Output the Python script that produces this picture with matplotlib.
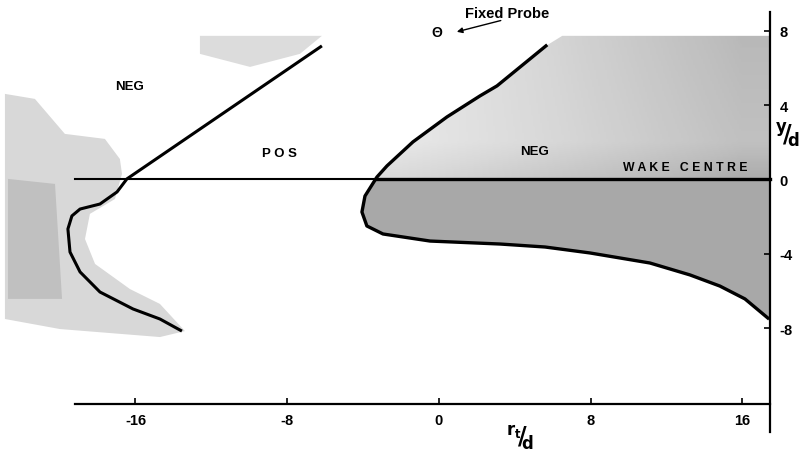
import numpy as np
import matplotlib
matplotlib.use('Agg')
import matplotlib.pyplot as plt
from matplotlib.patches import Polygon

plt.rcParams['font.family'] = ['Liberation Sans', 'DejaVu Sans']
plt.rcParams['font.weight'] = 'bold'
plt.rcParams['axes.unicode_minus'] = False

# zero-correlation boundary, left branch (r_t/d, y/d)
left_x = [-6.17, -16.45, -16.97, -17.87, -18.92, -19.35, -19.56, -19.45, -18.92, -17.87, -16.13, -14.71, -13.55]
left_y = [7.18, 0.03, -0.67, -1.32, -1.59, -1.96, -2.66, -3.90, -4.97, -6.05, -6.96, -7.50, -8.15]

# zero-correlation boundary, right branch: upper limb then lower limb
right_up_x = [5.64, 3.06, 2.16, 0.42, -1.37, -2.74, -3.27]
right_up_y = [7.18, 5.03, 4.49, 3.36, 2.02, 0.73, 0.13]
right_lo_x = [-3.27, -3.90, -4.06, -3.80, -2.95, -0.47, 3.22, 5.59, 7.96, 11.12, 13.23, 14.81, 16.13, 17.34]
right_lo_y = [0.13, -0.89, -1.75, -2.50, -2.93, -3.31, -3.47, -3.63, -3.95, -4.49, -5.13, -5.73, -6.42, -7.45]

# negative regions (shaded)
neg_left_x = [-22.88, -21.30, -19.72, -17.61, -16.82, -16.71, -17.08, -18.40, -18.66, -18.13, -16.29, -14.71, -13.39, -14.71, -19.98, -22.88]
neg_left_y = [4.60, 4.33, 2.45, 2.18, 1.10, 0.30, -1.05, -1.85, -3.20, -4.54, -5.89, -6.69, -8.15, -8.47, -8.04, -7.50]
neg_core_x = [-22.72, -20.24, -19.87, -22.72]
neg_core_y = [0.03, -0.24, -6.42, -6.42]
neg_top_x = [-12.60, -6.17, -7.33, -9.96, -12.60]
neg_top_y = [7.72, 7.72, 6.75, 6.05, 6.75]

x_ticks = [-16, -8, 0, 8, 16]
y_ticks = [-8, -4, 0, 4, 8]
x_edge = 17.45      # r_t/d where the y/d axis stands
x_start = -19.2
y_floor = -12.05
y_top = 7.72

fig = plt.figure(figsize=(7.99, 4.56), dpi=100)
ax = fig.add_axes([0, 0, 1, 1])
ax.set_xlim(-23.14, 18.98)
ax.set_ylim(-14.81, 9.70)

# shaded NEG zones
ax.fill(neg_left_x, neg_left_y, color='#d8d8d8', lw=0, zorder=1)
ax.fill(neg_core_x, neg_core_y, color='#c0c0c0', lw=0, zorder=1)
ax.fill(neg_top_x, neg_top_y, color='#dcdcdc', lw=0, zorder=1)

lo_poly = list(zip(right_lo_x, right_lo_y))
lo_poly = [(-3.35, 0)] + lo_poly[1:] + [(x_edge, right_lo_y[-1]), (x_edge, 0)]
ax.add_patch(Polygon(lo_poly, closed=True, fc='#a8a8a8', ec='none', zorder=1))

up_poly = [(-3.35, 0)] + list(zip(right_up_x[::-1], right_up_y[::-1])) + [(6.5, y_top), (x_edge, y_top), (x_edge, 0)]
up_patch = Polygon(up_poly, closed=True, fc='none', ec='none', zorder=1)
ax.add_patch(up_patch)
gx, gy = np.meshgrid(np.linspace(-4.2, x_edge, 200), np.linspace(0, y_top, 80))
sx = np.clip((gx + 2) / 18, 0, 1)
tone = 0.17 + 0.18 * sx + 0.08 * np.clip(1 - gy / 2, 0, 1) + 0.04 * sx * gy / y_top
im = ax.imshow(tone, extent=[-4.2, x_edge, 0, y_top], origin='lower', cmap='Greys',
               vmin=0, vmax=1, aspect='auto', zorder=1, interpolation='bilinear')
im.set_clip_path(up_patch)

# boundaries and wake centre
ax.plot(left_x, left_y, color='black', lw=2.2, zorder=3, solid_capstyle='butt')
ax.plot(right_up_x + right_lo_x[1:], right_up_y + right_lo_y[1:], color='black', lw=2.4, zorder=3)
ax.plot([x_start, -3.3], [0, 0], color='black', lw=1.5, zorder=3)
ax.plot([-3.3, x_edge], [0, 0], color='black', lw=2.4, zorder=3)

# axes
for s in ['top', 'left']:
    ax.spines[s].set_visible(False)
ax.spines['right'].set_position(('data', x_edge))
ax.spines['right'].set_bounds(-13.6, 9.0)
ax.spines['bottom'].set_position(('data', y_floor))
ax.spines['bottom'].set_bounds(x_start, x_edge)
ax.spines['right'].set_linewidth(1.6)
ax.spines['bottom'].set_linewidth(1.6)
ax.xaxis.set_ticks_position('bottom')
ax.yaxis.set_ticks_position('right')
ax.set_xticks(x_ticks)
ax.set_yticks(y_ticks)
ax.tick_params(axis='x', direction='in', length=4, width=1.2, pad=7, labelsize=10.5)
ax.tick_params(axis='y', direction='in', length=4, width=1.2, pad=7, labelsize=10.5)

ax.text(18.35, 2.4, r'$^{\mathbf{y}}\!/\!_{\mathbf{d}}$', fontsize=17, ha='center', va='center')
ax.text(4.27, -13.85, r'$^{\mathbf{r_t}}\!/\!_{\mathbf{d}}$', fontsize=17, ha='center', va='center')

# region labels
ax.text(-16.3, 5.03, 'NEG', fontsize=9.5, fontweight='heavy', ha='center', va='center', zorder=4)
ax.text(-8.4, 1.4, 'P O S', fontsize=9.5, ha='center', va='center', zorder=4)
ax.text(5.06, 1.53, 'NEG', fontsize=9.5, fontweight='heavy', ha='center', va='center', zorder=4)
ax.text(13.0, 0.67, 'W A K E   C E N T R E', fontsize=8.8, ha='center', va='center', zorder=4)

# probe position
ax.text(3.58, 8.95, 'Fixed Probe', fontsize=10.5, ha='center', va='center')
ax.text(-0.1, 7.9, 'Θ', fontsize=10, ha='center', va='center')
ax.annotate('', xy=(0.8, 7.9), xytext=(3.4, 8.58),
            arrowprops=dict(arrowstyle='-|>', color='black', lw=1.0, mutation_scale=8))

fig.savefig('out.png', dpi=100)
